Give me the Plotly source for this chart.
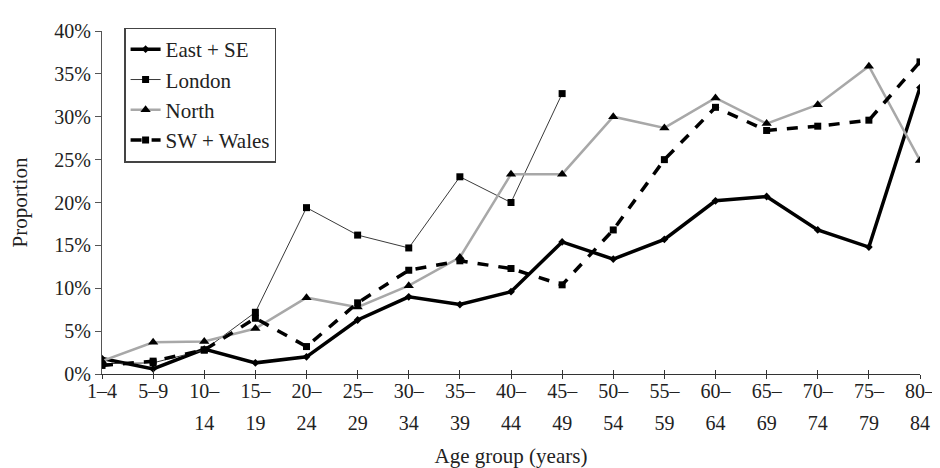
import plotly.graph_objects as go

age_line1 = ["1–4", "5–9", "10–", "15–", "20–", "25–", "30–", "35–", "40–",
             "45–", "50–", "55–", "60–", "65–", "70–", "75–", "80–"]
age_line2 = ["", "", "14", "19", "24", "29", "34", "39", "44",
             "49", "54", "59", "64", "69", "74", "79", "84"]

east_se = [1.8, 0.6, 2.9, 1.3, 2.0, 6.3, 9.0, 8.1, 9.6, 15.4, 13.4, 15.7, 20.2, 20.7, 16.8, 14.8, 33.4]
london = [1.2, 1.3, 2.8, 7.2, 19.4, 16.2, 14.7, 23.0, 20.0, 32.7]
north = [1.5, 3.7, 3.8, 5.3, 8.9, 7.8, 10.3, 13.6, 23.3, 23.3, 30.0, 28.7, 32.2, 29.2, 31.4, 35.9, 24.9]
sw_wales = [1.0, 1.5, 2.8, 6.5, 3.2, 8.3, 12.1, 13.2, 12.3, 10.4, 16.8, 25.0, 31.1, 28.4, 28.9, 29.6, 36.4]

y_ticks = [0, 5, 10, 15, 20, 25, 30, 35, 40]
y_ticktext = [f"{v}%" for v in y_ticks]

FONT = "Liberation Serif"
FS = 20
pos = list(range(len(age_line1)))

fig = go.Figure()
fig.add_trace(go.Scatter(
    x=pos, y=east_se, name="East + SE", mode="lines+markers",
    line=dict(color="black", width=3.5),
    marker=dict(symbol="diamond", size=6, color="black"),
    legendgroup="a"))
fig.add_trace(go.Scatter(
    x=pos[:len(london)], y=london, name="London", mode="lines+markers",
    line=dict(color="#3a3a3a", width=1),
    marker=dict(symbol="square", size=7, color="black"),
    legendgroup="b"))
fig.add_trace(go.Scatter(
    x=pos, y=north, name="North", mode="lines+markers",
    line=dict(color="#a8a8a8", width=2.5),
    marker=dict(symbol="triangle-up", size=9, color="black"),
    legendgroup="c"))
fig.add_trace(go.Scatter(
    x=pos, y=sw_wales, name="SW + Wales", mode="lines+markers",
    line=dict(color="black", width=3.5, dash="11px,10px"),
    marker=dict(symbol="square", size=7, color="black"),
    legendgroup="d"))
# helper trace so the second-line tick axis is drawn
fig.add_trace(go.Scatter(x=[None], y=[None], xaxis="x2", showlegend=False,
                         hoverinfo="skip"))

fig.update_layout(
    width=940, height=468,
    margin=dict(l=93, r=24, t=22, b=101),
    paper_bgcolor="white", plot_bgcolor="white",
    font=dict(family=FONT, size=FS, color="#222222"),
    showlegend=True,
    legend=dict(x=0.027, y=1.01, xanchor="left", yanchor="top",
                bordercolor="#444444", borderwidth=1.5, bgcolor="white",
                font=dict(family=FONT, size=21), tracegroupgap=0,
                traceorder="grouped"),
    xaxis=dict(range=[0, 16], tickmode="array", tickvals=pos, ticktext=age_line1,
               showgrid=False, zeroline=False, showline=True,
               linecolor="#333333", linewidth=1.2,
               ticks="outside", ticklen=4, tickcolor="#333333",
               ticklabelstandoff=-5,
               tickfont=dict(family=FONT, size=FS),
               title=dict(text="Age group (years)", standoff=47,
                          font=dict(family=FONT, size=21))),
    xaxis2=dict(range=[0, 16], overlaying="x", anchor="y", side="bottom",
                tickmode="array", tickvals=pos, ticktext=age_line2,
                showgrid=False, zeroline=False, showline=False,
                ticks="inside", ticklen=4, tickcolor="#333333",
                ticklabelstandoff=35,
                tickfont=dict(family=FONT, size=FS)),
    yaxis=dict(range=[0, 40], tickmode="array", tickvals=y_ticks, ticktext=y_ticktext,
               showgrid=False, zeroline=False, showline=True,
               linecolor="#555555", linewidth=1.2,
               ticks="outside", ticklen=6, tickcolor="#555555",
               tickfont=dict(family=FONT, size=FS),
               title=dict(text="Proportion", standoff=20,
                          font=dict(family=FONT, size=21))),
)

fig.write_html("out.html")
